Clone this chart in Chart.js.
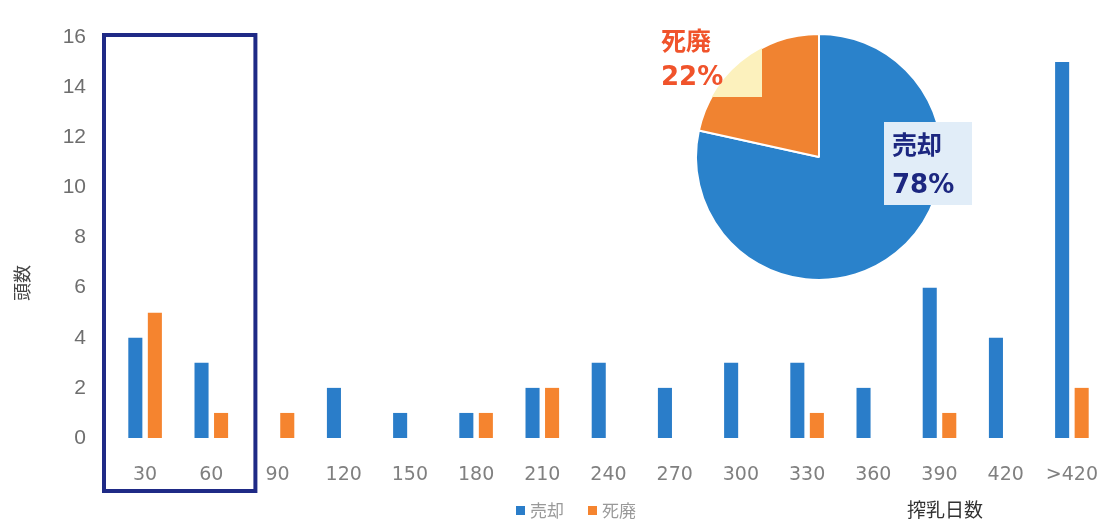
<!DOCTYPE html>
<html>
<head>
<meta charset="utf-8">
<script src="https://cdn.jsdelivr.net/npm/chart.js@4"></script>
<style>
    html, body { margin: 0; padding: 0; background: #fff; }
    #wrap { position: relative; width: 1109px; height: 520px; }
    #bars { position: absolute; left: 0; top: 0; }
    #pieBox { position: absolute; left: 640px; top: 0; width: 360px; height: 314px; }
</style>
</head>
<body>
<div id="wrap">
    <canvas id="bars" width="1109" height="520"></canvas>
    <div id="pieBox"><canvas id="pie"></canvas></div>
</div>
<script>
const days = ['30', '60', '90', '120', '150', '180', '210', '240', '270', '300', '330', '360', '390', '420', '>420'];
const sold = [4, 3, 0, 2, 1, 1, 2, 3, 2, 3, 3, 2, 6, 4, 15];
const culled = [5, 1, 1, 0, 0, 1, 2, 0, 0, 0, 1, 0, 1, 0, 2];
const seriesNames = ['売却', '死廃'];
const yTicks = [0, 2, 4, 6, 8, 10, 12, 14, 16];

const BLUE = '#2a7dc9';
const ORANGE = '#f5842f';
const NAVY = '#1f2a86';

const sum = arr => arr.reduce((a, b) => a + b, 0);
const totals = [sum(sold), sum(culled)];

document.addEventListener('DOMContentLoaded', () => {
    // frame around the first two groups, legend, axis captions
    const extras = {
        id: 'extras',
        afterDraw(chart) {
            const ctx = chart.ctx;
            const x = chart.scales.x;
            const half = (x.getPixelForValue(1) - x.getPixelForValue(0)) / 2;

            ctx.save();
            ctx.strokeStyle = NAVY;
            ctx.lineWidth = 4;
            const left = x.getPixelForValue(0) - half - 8;
            const right = x.getPixelForValue(1) + half + 11;
            ctx.strokeRect(left, 35, right - left, 456);

            // y caption
            ctx.save();
            ctx.translate(22, 283);
            ctx.rotate(-Math.PI / 2);
            ctx.fillStyle = '#444';
            ctx.font = '18px "Noto Sans CJK JP"';
            ctx.textAlign = 'center';
            ctx.textBaseline = 'middle';
            ctx.fillText('頭数', 0, 0);
            ctx.restore();

            // legend
            ctx.font = '17px "Noto Sans CJK JP"';
            ctx.textBaseline = 'middle';
            ctx.textAlign = 'left';
            let lx = 516;
            chart.data.datasets.forEach(ds => {
                ctx.fillStyle = ds.backgroundColor;
                ctx.fillRect(lx, 506, 9, 9);
                ctx.fillStyle = '#999';
                ctx.fillText(ds.label, lx + 14, 511);
                lx += 72;
            });

            // x caption
            ctx.fillStyle = '#333';
            ctx.font = '19px "Noto Sans CJK JP"';
            ctx.textAlign = 'center';
            ctx.fillText('搾乳日数', 945, 510);
            ctx.restore();
        }
    };

    new Chart(document.getElementById('bars'), {
        type: 'bar',
        data: {
            labels: days,
            datasets: [
                { label: seriesNames[0], data: sold, backgroundColor: BLUE },
                { label: seriesNames[1], data: culled, backgroundColor: ORANGE }
            ]
        },
        options: {
            responsive: false,
            animation: false,
            layout: { padding: { top: 37, right: 4, left: 0, bottom: 0 } },
            datasets: { bar: { categoryPercentage: 0.59, barPercentage: 0.72 } },
            plugins: { legend: { display: false }, tooltip: { enabled: false } },
            scales: {
                x: {
                    grid: { display: false },
                    border: { display: false },
                    ticks: { color: '#808080', padding: 18, font: { family: 'DejaVu Sans', size: 19 } },
                    afterFit: s => { s.height = 82; s.paddingLeft = 0; s.paddingRight = 0; }
                },
                y: {
                    min: 0, max: 16,
                    afterBuildTicks: s => { s.ticks = yTicks.map(v => ({ value: v })); },
                    grid: { display: false },
                    border: { display: false },
                    ticks: { color: '#6e6e6e', padding: 18, font: { family: '"Liberation Sans Narrow", "Liberation Sans"', size: 21 } },
                    afterFit: s => { s.width = 112; }
                }
            }
        },
        plugins: [extras]
    });

    // pie annotations: label boxes and percentages
    const pieLabels = {
        id: 'pieLabels',
        afterDatasetsDraw(chart) {
            const ctx = chart.ctx;
            const arc = chart.getDatasetMeta(0).data[0];
            const cx = arc.x, cy = arc.y, r = arc.outerRadius;
            const pct = totals.map(t => Math.round(t / sum(totals) * 100));

            ctx.save();
            // pale box over the small slice, only visible inside the pie
            ctx.save();
            ctx.beginPath();
            ctx.arc(cx, cy, r, 0, Math.PI * 2);
            ctx.clip();
            ctx.fillStyle = '#fcf1bd';
            ctx.fillRect(cx - 112, cy - 140, 55, 80);
            ctx.restore();

            ctx.fillStyle = '#e1edf8';
            ctx.fillRect(cx + 65, cy - 35, 88, 83);

            ctx.textAlign = 'left';
            ctx.textBaseline = 'middle';
            ctx.font = 'bold 25px "Noto Sans CJK JP"';
            ctx.fillStyle = '#f0532b';
            ctx.fillText(seriesNames[1], cx - 158, cy - 117);
            ctx.font = 'bold 26px "DejaVu Sans"';
            ctx.fillText(pct[1] + '%', cx - 158, cy - 79);

            ctx.fillStyle = '#1c2780';
            ctx.font = 'bold 25px "Noto Sans CJK JP"';
            ctx.fillText(seriesNames[0], cx + 73, cy - 13);
            ctx.font = 'bold 26px "DejaVu Sans"';
            ctx.fillText(pct[0] + '%', cx + 73, cy + 29);
            ctx.restore();
        }
    };

    new Chart(document.getElementById('pie'), {
        type: 'pie',
        data: {
            labels: seriesNames,
            datasets: [{
                data: totals,
                backgroundColor: ['#2a82cb', '#f08331'],
                borderColor: '#fff',
                borderWidth: 2
            }]
        },
        options: {
            responsive: true,
            maintainAspectRatio: false,
            animation: false,
            layout: { padding: { top: 33, bottom: 33, left: 55, right: 57 } },
            plugins: { legend: { display: false }, tooltip: { enabled: false } }
        },
        plugins: [pieLabels]
    });
});
</script>
</body>
</html>
